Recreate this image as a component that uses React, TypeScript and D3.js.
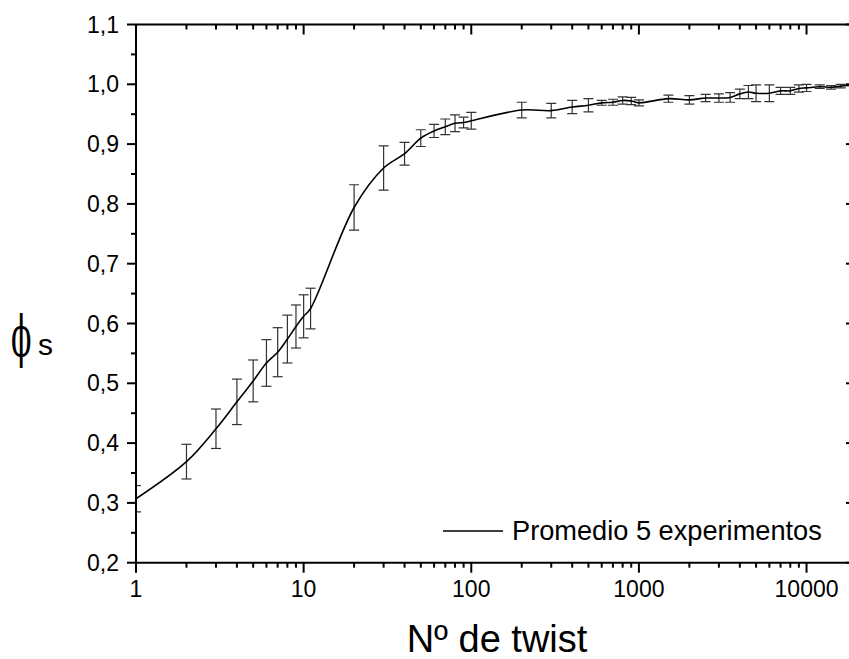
import React from "react";
import * as d3 from "d3";

const twists = [1, 2, 3, 4, 5, 6, 7, 8, 9, 10, 11, 20, 30, 40, 50, 60, 70, 80, 90, 100, 200, 300, 400, 500, 600, 700, 800, 900, 1000, 1500, 2000, 2500, 3000, 3500, 4000, 4500, 5000, 6000, 7000, 8000, 9000, 10000, 12000, 14000, 16000, 20000];
const phiMean = [0.307, 0.369, 0.424, 0.469, 0.504, 0.534, 0.552, 0.574, 0.595, 0.612, 0.625, 0.794, 0.86, 0.884, 0.91, 0.922, 0.929, 0.935, 0.936, 0.939, 0.957, 0.956, 0.962, 0.965, 0.969, 0.97, 0.973, 0.972, 0.969, 0.976, 0.974, 0.977, 0.977, 0.978, 0.984, 0.987, 0.985, 0.985, 0.989, 0.989, 0.993, 0.994, 0.996, 0.995, 0.997, 0.999];
const phiErr = [0.022, 0.029, 0.033, 0.038, 0.035, 0.039, 0.041, 0.04, 0.036, 0.036, 0.034, 0.038, 0.037, 0.019, 0.014, 0.011, 0.013, 0.014, 0.009, 0.014, 0.013, 0.012, 0.011, 0.011, 0.004, 0.005, 0.006, 0.006, 0.005, 0.006, 0.007, 0.006, 0.007, 0.008, 0.008, 0.011, 0.014, 0.014, 0.006, 0.006, 0.006, 0.006, 0.003, 0.003, 0.003, 0.003];

const xMajorTicks = [1, 10, 100, 1000, 10000];
const yMajorTicks = [0.2, 0.3, 0.4, 0.5, 0.6, 0.7, 0.8, 0.9, 1.0, 1.1];
const legendLabel = "Promedio 5 experimentos";
const xTitle = "Nº de twist";

export default function App() {
  const W = 849, H = 659;
  const left = 136, right = 857, top = 24.5, bottom = 562.7;
  const x = d3.scaleLog().domain([1, 20000]).range([left, right]);
  const y = d3.scaleLinear().domain([0.2, 1.1]).range([bottom, top]);

  const xMinor: number[] = [];
  for (let d = 1; d <= 10000; d *= 10) for (let k = 2; k <= 9; k++) if (d * k <= 20000) xMinor.push(d * k);
  const yMinor = d3.range(0.25, 1.1, 0.1);
  const fmt = (v: number) => v.toFixed(1).replace(".", ",");

  const data = twists.map((t, i) => ({ t, m: phiMean[i], e: phiErr[i] }));
  const line = d3.line<{ t: number; m: number }>().x(d => x(d.t)).y(d => y(d.m)).curve(d3.curveCatmullRom.alpha(0.5));

  const font = "Liberation Sans, Arial, sans-serif";
  const rightAxisX = 855;

  return (
    <svg width={W} height={H} style={{ position: "absolute", left: 0, top: 0, background: "#fff" }} fontFamily={font}>
      <defs>
        <clipPath id="plot">
          <rect x={left} y={top} width={right - left} height={bottom - top} />
        </clipPath>
      </defs>
      <rect x={0} y={0} width={W} height={H} fill="#fff" />
      <g clipPath="url(#plot)">
        {data.map((d, i) => (
          <g key={i} stroke="#333" strokeWidth={1.2}>
            <line x1={x(d.t)} x2={x(d.t)} y1={y(d.m - d.e)} y2={y(d.m + d.e)} />
            <line x1={x(d.t) - 5} x2={x(d.t) + 5} y1={y(d.m - d.e)} y2={y(d.m - d.e)} />
            <line x1={x(d.t) - 5} x2={x(d.t) + 5} y1={y(d.m + d.e)} y2={y(d.m + d.e)} />
          </g>
        ))}
        <path d={line(data) || ""} fill="none" stroke="#000" strokeWidth={1.6} />
      </g>

      <g stroke="#000" strokeWidth={2}>
        <line x1={left} x2={W + 10} y1={bottom} y2={bottom} />
        <line x1={left} x2={W + 10} y1={top} y2={top} />
        <line x1={left} x2={left} y1={top} y2={bottom + 1} />
        <line x1={rightAxisX} x2={rightAxisX} y1={top} y2={bottom} />
      </g>

      <g stroke="#000" strokeWidth={2}>
        {xMajorTicks.map(t => (
          <g key={"xm" + t}>
            <line x1={x(t)} x2={x(t)} y1={bottom} y2={bottom + 10} />
            <line x1={x(t)} x2={x(t)} y1={top} y2={top + 10} />
          </g>
        ))}
        {xMinor.map(t => (
          <g key={"xn" + t}>
            <line x1={x(t)} x2={x(t)} y1={bottom} y2={bottom + 5} />
            <line x1={x(t)} x2={x(t)} y1={top} y2={top + 5} />
          </g>
        ))}
        {yMajorTicks.map(v => (
          <g key={"ym" + v}>
            <line x1={left - 9} x2={left} y1={y(v)} y2={y(v)} />
            <line x1={rightAxisX - 9} x2={rightAxisX} y1={y(v)} y2={y(v)} />
          </g>
        ))}
        {yMinor.map(v => (
          <line key={"yn" + v} x1={left - 5} x2={left} y1={y(v)} y2={y(v)} />
        ))}
      </g>

      <g fontSize={23} fill="#000">
        {xMajorTicks.map(t => (
          <text key={"xl" + t} x={x(t)} y={597} textAnchor="middle">{t}</text>
        ))}
        {yMajorTicks.map(v => (
          <text key={"yl" + v} x={119} y={y(v)} dy="0.35em" textAnchor="end">{fmt(v)}</text>
        ))}
      </g>

      <line x1={443} x2={503} y1={531} y2={531} stroke="#000" strokeWidth={1.6} />
      <text x={512} y={540} fontSize={27.2} fill="#000">{legendLabel}</text>

      <text x={497} y={652} fontSize={38} textAnchor="middle" fill="#000">{xTitle}</text>
      <text x={0} y={0} fontSize={50} fontFamily="DejaVu Serif, serif" fill="#000"
        transform="translate(11,356) scale(0.6,1.12)">ϕ</text>
      <text x={38} y={355} fontSize={30} fill="#000">s</text>
    </svg>
  );
}
